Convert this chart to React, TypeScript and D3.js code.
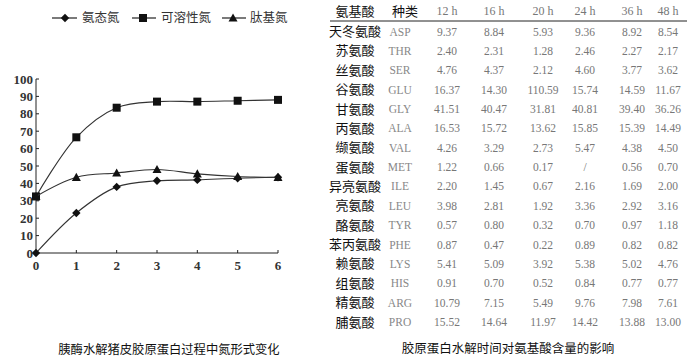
import React from "react";
import * as d3 from "d3";

const hours = [0, 1, 2, 3, 4, 5, 6];
const ammoniaN = [0, 23, 38, 41.5, 42, 43, 43.5];
const solubleN = [32.5, 66.5, 83.5, 87, 87, 87.5, 88];
const peptideN = [32.5, 43.5, 46, 48, 45.5, 44, 43.5];
const yTicks = [0, 10, 20, 30, 40, 50, 60, 70, 80, 90, 100];
const seriesNames = ["氨态氮", "可溶性氮", "肽基氮"];

const tableHeaders = ["氨基酸", "种类", "12 h", "16 h", "20 h", "24 h", "36 h", "48 h"];
const aminoNames = ["天冬氨酸", "苏氨酸", "丝氨酸", "谷氨酸", "甘氨酸", "丙氨酸", "缬氨酸", "蛋氨酸", "异亮氨酸", "亮氨酸", "酪氨酸", "苯丙氨酸", "赖氨酸", "组氨酸", "精氨酸", "脯氨酸"];
const aminoCodes = ["ASP", "THR", "SER", "GLU", "GLY", "ALA", "VAL", "MET", "ILE", "LEU", "TYR", "PHE", "LYS", "HIS", "ARG", "PRO"];
const v12 = ["9.37", "2.40", "4.76", "16.37", "41.51", "16.53", "4.26", "1.22", "2.20", "3.98", "0.57", "0.87", "5.41", "0.91", "10.79", "15.52"];
const v16 = ["8.84", "2.31", "4.37", "14.30", "40.47", "15.72", "3.29", "0.66", "1.45", "2.81", "0.80", "0.47", "5.09", "0.70", "7.15", "14.64"];
const v20 = ["5.93", "1.28", "2.12", "110.59", "31.81", "13.62", "2.73", "0.17", "0.67", "1.92", "0.32", "0.22", "3.92", "0.52", "5.49", "11.97"];
const v24 = ["9.36", "2.46", "4.60", "15.74", "40.81", "15.85", "5.47", "/", "2.16", "3.36", "0.70", "0.89", "5.38", "0.84", "9.76", "14.42"];
const v36 = ["8.92", "2.27", "3.77", "14.59", "39.40", "15.39", "4.38", "0.56", "1.69", "2.92", "0.97", "0.82", "5.02", "0.77", "7.98", "13.88"];
const v48 = ["8.54", "2.17", "3.62", "11.67", "36.26", "14.49", "4.50", "0.70", "2.00", "3.16", "1.18", "0.82", "4.76", "0.77", "7.61", "13.00"];

const serif = "'Liberation Serif', 'DejaVu Serif', serif";
const cjk = "'Noto Sans CJK SC', 'Noto Sans', sans-serif";

function Marker({ kind, x, y }: { kind: number; x: number; y: number }) {
  if (kind === 0) {
    const s = 4.2;
    return <path d={`M${x},${y - s}L${x + s},${y}L${x},${y + s}L${x - s},${y}Z`} fill="#111" />;
  }
  if (kind === 1) {
    const s = 4;
    return <rect x={x - s} y={y - s} width={2 * s} height={2 * s} fill="#111" />;
  }
  const s = 4.5;
  return <path d={`M${x},${y - s}L${x + s},${y + s * 0.8}L${x - s},${y + s * 0.8}Z`} fill="#111" />;
}

export default function App() {
  const x = d3.scaleLinear().domain([0, 6]).range([36, 278]);
  const y = d3.scaleLinear().domain([0, 100]).range([253, 79]);
  const series = [ammoniaN, solubleN, peptideN];
  const line = d3
    .line<number>()
    .x((_, i) => x(hours[i]))
    .y((d) => y(d))
    .curve(d3.curveCatmullRom.alpha(0.5));

  const legendX = [
    { lx1: 52, lx2: 77, mx: 65, tx: 82 },
    { lx1: 132, lx2: 156, mx: 143, tx: 161 },
    { lx1: 222, lx2: 246, mx: 233, tx: 250 },
  ];

  const colCenters = [355, 400, 447, 494, 543, 585, 632, 668];
  const rowY = d3.scaleLinear().domain([0, 15]).range([31.5, 322]);
  const valueCols = [v12, v16, v20, v24, v36, v48];

  return (
    <svg width={700} height={361} style={{ position: "absolute", left: 0, top: 0, background: "#fff" }}>
      <rect width={700} height={361} fill="#fff" />
      {/* legend */}
      {seriesNames.map((n, i) => (
        <g key={n}>
          <line x1={legendX[i].lx1} x2={legendX[i].lx2} y1={18} y2={18} stroke="#222" strokeWidth={1.2} />
          <Marker kind={i} x={legendX[i].mx} y={18} />
          <text x={legendX[i].tx} y={18} dy="0.35em" fontFamily={cjk} fontSize={12.5} fill="#333">
            {n}
          </text>
        </g>
      ))}
      {/* axes */}
      <line x1={x(0)} x2={x(0)} y1={y(100)} y2={y(0)} stroke="#222" strokeWidth={1} />
      <line x1={x(0)} x2={x(6)} y1={y(0)} y2={y(0)} stroke="#222" strokeWidth={1} />
      {yTicks.map((t) => (
        <g key={t}>
          <line x1={x(0)} x2={x(0) + 3} y1={y(t)} y2={y(t)} stroke="#222" />
          <text x={x(0) - 3} y={y(t)} dy="0.35em" textAnchor="end" fontFamily={serif} fontSize={13} fontWeight="bold" fill="#333">
            {t}
          </text>
        </g>
      ))}
      {hours.map((h) => (
        <g key={h}>
          <line x1={x(h)} x2={x(h)} y1={y(0)} y2={y(0) - 3} stroke="#222" />
          <text x={x(h)} y={265} dy="0.35em" textAnchor="middle" fontFamily={serif} fontSize={13} fontWeight="bold" fill="#333">
            {h}
          </text>
        </g>
      ))}
      {/* lines */}
      {series.map((s, i) => (
        <g key={i}>
          <path d={line(s) || ""} fill="none" stroke="#333" strokeWidth={1.1} />
          {s.map((v, j) => (
            <Marker key={j} kind={i} x={x(hours[j])} y={y(v)} />
          ))}
        </g>
      ))}
      <text x={169} y={350} dy="0.35em" textAnchor="middle" fontFamily={cjk} fontSize={12.3} fill="#111">
        胰酶水解猪皮胶原蛋白过程中氮形式变化
      </text>

      {/* table */}
      {tableHeaders.map((h, i) => (
        <text
          key={h}
          x={i === 1 ? 405 : colCenters[i]}
          y={11}
          dy="0.35em"
          textAnchor="middle"
          fontFamily={i < 2 ? cjk : serif}
          fontSize={i < 2 ? 13 : 12}
          fill={i < 2 ? "#111" : "#777"}
        >
          {h}
        </text>
      ))}
      <line x1={330} x2={687} y1={21} y2={21} stroke="#222" strokeWidth={1} />
      {aminoNames.map((n, r) => (
        <g key={n}>
          <text x={colCenters[0]} y={rowY(r)} dy="0.35em" textAnchor="middle" fontFamily={cjk} fontSize={13} fill="#111">
            {n}
          </text>
          <text x={colCenters[1]} y={rowY(r)} dy="0.35em" textAnchor="middle" fontFamily={serif} fontSize={11.5} fill="#888">
            {aminoCodes[r]}
          </text>
          {valueCols.map((col, c) => (
            <text key={c} x={colCenters[c + 2]} y={rowY(r)} dy="0.35em" textAnchor="middle" fontFamily={serif} fontSize={11.5} fill="#777">
              {col[r]}
            </text>
          ))}
        </g>
      ))}
      <text x={508} y={349} dy="0.35em" textAnchor="middle" fontFamily={cjk} fontSize={12.5} fill="#111">
        胶原蛋白水解时间对氨基酸含量的影响
      </text>
    </svg>
  );
}
